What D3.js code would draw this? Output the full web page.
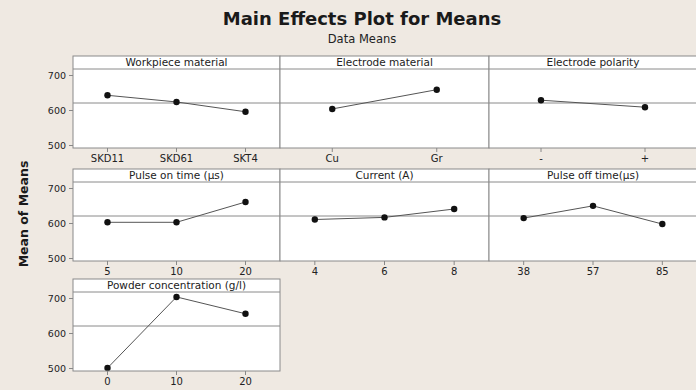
<!DOCTYPE html>
<html><head><meta charset="utf-8">
<script src="https://cdn.jsdelivr.net/npm/d3@7"></script>
<style>
html,body{margin:0;padding:0;background:#efe9e2;}
svg{display:block;}
</style></head>
<body>
<svg id="chart" width="696" height="390"></svg>
<script>
// ---- data ----
const factors = ["Workpiece material","Electrode material","Electrode polarity",
  "Pulse on time (µs)","Current (A)","Pulse off time(µs)","Powder concentration (g/l)"];
const levelsWorkpiece = ["SKD11","SKD61","SKT4"];
const meansWorkpiece = [642,623,595];
const levelsElectrode = ["Cu","Gr"];
const meansElectrode = [603,658];
const levelsPolarity = ["-","+"];
const meansPolarity = [628,608];
const levelsPulseOn = ["5","10","20"];
const meansPulseOn = [602,602,660];
const levelsCurrent = ["4","6","8"];
const meansCurrent = [610,616,640];
const levelsPulseOff = ["38","57","85"];
const meansPulseOff = [614,649,597];
const levelsPowder = ["0","10","20"];
const meansPowder = [500,703,655];
const grandMean = 620;
const yTicks = [500,600,700];

const panels = [
  {name:factors[0], levels:levelsWorkpiece, means:meansWorkpiece, row:0,col:0},
  {name:factors[1], levels:levelsElectrode, means:meansElectrode, row:0,col:1},
  {name:factors[2], levels:levelsPolarity, means:meansPolarity, row:0,col:2},
  {name:factors[3], levels:levelsPulseOn, means:meansPulseOn, row:1,col:0},
  {name:factors[4], levels:levelsCurrent, means:meansCurrent, row:1,col:1},
  {name:factors[5], levels:levelsPulseOff, means:meansPulseOff, row:1,col:2},
  {name:factors[6], levels:levelsPowder, means:meansPowder, row:2,col:0}
];

const svg = d3.select("#chart");
const font = "'DejaVu Sans', Verdana, sans-serif";

svg.append("text").attr("x",362).attr("y",25).attr("text-anchor","middle")
  .attr("font-family",font).attr("font-weight","bold").attr("font-size",18)
  .attr("fill","#1a1a1a").text("Main Effects Plot for Means");
svg.append("text").attr("x",362).attr("y",43).attr("text-anchor","middle")
  .attr("font-family",font).attr("font-size",11.5)
  .attr("fill","#222").text("Data Means");
svg.append("text").attr("transform","translate(28,214) rotate(-90)")
  .attr("text-anchor","middle").attr("font-family",font).attr("font-weight","bold")
  .attr("font-size",12.5).attr("fill","#1a1a1a").text("Mean of Means");

const colX = [73,280,489], colW = [207,209,208];
const rowY = [56,169,279], panelH = 92, headH = 13;

panels.forEach(p=>{
  const x0 = colX[p.col], w = colW[p.col], y0 = rowY[p.row];
  const g = svg.append("g").attr("transform",`translate(${x0},${y0})`);
  const x = d3.scaleBand().domain(p.levels).range([0,w]);
  const cx = d => x(d)+x.bandwidth()/2;
  const y = d3.scaleLinear().domain([500,700]).range([89,19]);

  g.append("rect").attr("x",0).attr("y",0).attr("width",w).attr("height",panelH)
    .attr("fill","#fff");
  // header strip
  g.append("line").attr("x1",0).attr("x2",w).attr("y1",headH).attr("y2",headH)
    .attr("stroke","#8a8a8a").attr("stroke-width",1);
  g.append("text").attr("x",w/2).attr("y",headH-3).attr("text-anchor","middle")
    .attr("font-family",font).attr("font-size",10.5).attr("fill","#222").text(p.name);
  // grand mean line
  g.append("line").attr("x1",0).attr("x2",w).attr("y1",y(grandMean)).attr("y2",y(grandMean))
    .attr("stroke","#8a8a8a").attr("stroke-width",1);
  // data line
  const line = d3.line().x((d,i)=>cx(p.levels[i])).y(d=>y(d));
  g.append("path").attr("d",line(p.means)).attr("fill","none")
    .attr("stroke","#555").attr("stroke-width",1);
  g.selectAll("circle.pt").data(p.means).join("circle").attr("class","pt")
    .attr("cx",(d,i)=>cx(p.levels[i])).attr("cy",d=>y(d)).attr("r",3.2)
    .attr("fill","#111");
  // border
  g.append("rect").attr("x",0).attr("y",0).attr("width",w).attr("height",panelH)
    .attr("fill","none").attr("stroke","#8a8a8a").attr("stroke-width",1);
  // x axis
  const xa = g.append("g").attr("transform",`translate(0,${panelH})`)
    .call(d3.axisBottom(x).tickSize(4).tickPadding(3));
  xa.select(".domain").remove();
  xa.selectAll("line").attr("stroke","#888");
  xa.selectAll("text").attr("font-family",font).attr("font-size",10).attr("fill","#222");
  // y axis on first column
  if(p.col===0){
    const ya = g.append("g").call(d3.axisLeft(y).tickValues(yTicks).tickSize(4).tickPadding(3));
    ya.select(".domain").remove();
    ya.selectAll("line").attr("stroke","#888");
    ya.selectAll("text").attr("font-family",font).attr("font-size",9.5).attr("fill","#222");
  }
});
</script>
</body></html>
